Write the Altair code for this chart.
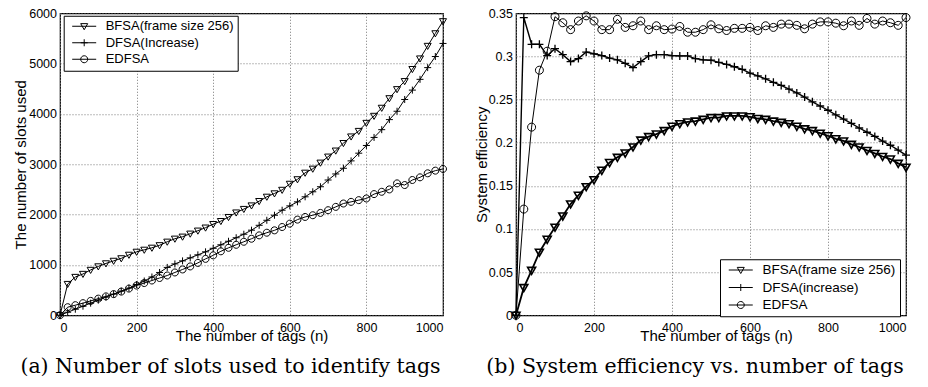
import altair as alt
import pandas as pd

tags = list(range(0, 1001, 20))

# (a) number of slots used
slots_bfsa = [0, 620, 760, 820, 900, 970, 1030, 1080, 1130, 1200, 1260, 1300, 1340, 1390, 1460,
              1520, 1560, 1620, 1680, 1740, 1810, 1870, 1950, 2040, 2110, 2180, 2267, 2353, 2420,
              2490, 2610, 2700, 2830, 2910, 3030, 3150, 3270, 3420, 3550, 3660, 3820, 3960, 4120,
              4310, 4490, 4650, 4890, 5100, 5350, 5600, 5840]
slots_dfsa = [0, 60, 120, 180, 240, 300, 360, 420, 480, 540, 610, 680, 760, 850, 950, 1020, 1080,
              1140, 1200, 1260, 1330, 1400, 1470, 1540, 1610, 1690, 1787, 1887, 1987, 2087, 2173,
              2253, 2353, 2453, 2553, 2687, 2807, 2920, 3067, 3220, 3373, 3533, 3687, 3887, 4053,
              4287, 4473, 4687, 4920, 5140, 5400]
slots_edfsa = [0, 160, 200, 240, 285, 330, 375, 420, 470, 530, 590, 640, 690, 740, 790, 850, 910,
               970, 1040, 1120, 1190, 1270, 1340, 1400, 1460, 1520, 1587, 1640, 1687, 1753, 1820,
               1900, 1953, 1987, 2033, 2087, 2153, 2220, 2253, 2287, 2320, 2407, 2453, 2500, 2620,
               2587, 2687, 2740, 2820, 2873, 2907]

# (b) system efficiency
eff_bfsa = [0, 0.032, 0.052, 0.073, 0.088, 0.102, 0.115, 0.129, 0.139, 0.149, 0.157, 0.168, 0.177,
            0.183, 0.188, 0.195, 0.203, 0.207, 0.210, 0.214, 0.219, 0.222, 0.224, 0.225, 0.227,
            0.229, 0.229, 0.231, 0.231, 0.231, 0.230, 0.228, 0.227, 0.225, 0.2235, 0.222, 0.219,
            0.216, 0.214, 0.211, 0.208, 0.2045, 0.202, 0.198, 0.195, 0.191, 0.1875, 0.184, 0.181,
            0.176, 0.1715]
eff_dfsa = [0, 0.345, 0.314, 0.314, 0.301, 0.309, 0.302, 0.294, 0.2975, 0.305, 0.303, 0.301, 0.298,
            0.296, 0.292, 0.287, 0.294, 0.3006, 0.302, 0.302, 0.301, 0.3006, 0.3006, 0.2975, 0.296,
            0.2956, 0.293, 0.2907, 0.288, 0.285, 0.2805, 0.2774, 0.274, 0.270, 0.2664, 0.262,
            0.2577, 0.2528, 0.2474, 0.2425, 0.2376, 0.2323, 0.2273, 0.2224, 0.217, 0.2121, 0.2072,
            0.2019, 0.197, 0.1913, 0.1856]
eff_edfsa = [0, 0.123, 0.218, 0.284, 0.306, 0.346, 0.339, 0.331, 0.341, 0.347, 0.341, 0.331, 0.331,
             0.343, 0.3336, 0.3355, 0.341, 0.331, 0.3355, 0.331, 0.3317, 0.3347, 0.328, 0.328, 0.331,
             0.3366, 0.332, 0.330, 0.3325, 0.3325, 0.3336, 0.330, 0.3355, 0.3336, 0.3374, 0.3374,
             0.336, 0.332, 0.3374, 0.340, 0.340, 0.3385, 0.3355, 0.341, 0.336, 0.344, 0.3374, 0.341,
             0.339, 0.336, 0.345]

names_a = ["BFSA(frame size 256)", "DFSA(Increase)", "EDFSA"]
names_b = ["BFSA(frame size 256)", "DFSA(increase)", "EDFSA"]
x_ticks = [0, 200, 400, 600, 800, 1000]
y_ticks_a = [0, 1000, 2000, 3000, 4000, 5000, 6000]
y_ticks_b = [0, 0.05, 0.1, 0.15, 0.2, 0.25, 0.3, 0.35]
caption_a = "(a) Number of slots used to identify tags"
caption_b = "(b) System efficiency vs. number of tags"

# marker glyphs (unit box) and legend glyphs (line + marker)
TRI = "M-1,-0.75L1,-0.75L0,1Z"
PLUS = "M-1,0L1,0M0,-1L0,1"
CIRC = "M1,0A1,1,0,1,1,-1,0A1,1,0,1,1,1,0Z"
L_TRI = "M-0.571,0L6.286,0M1.857,-0.75L3.857,-0.75L2.857,1Z"
L_PLUS = "M-0.571,0L6.286,0M1.857,0L3.857,0M2.857,-1L2.857,1"
L_CIRC = "M-0.571,0L6.286,0M3.857,0A1,1,0,1,1,1.857,0A1,1,0,1,1,3.857,0Z"

SANS = "Liberation Sans"
SERIF = "DejaVu Serif"


def make_df(names, cols):
    rows = []
    for name, vals in zip(names, cols):
        for n, v in zip(tags, vals):
            rows.append({"n": n, "v": v, "series": name})
    return pd.DataFrame(rows)


def panel(df, names, ymax, yvals, yfmt, ytitle, ytitle_x, width, height, leg_x, leg_y,
          leg_font, caption, cap_dx, line_w, pt_w, pt_size, xtitle_x):
    x = alt.X("n:Q", scale=alt.Scale(domain=[0, 1000], nice=False, zero=False),
              axis=alt.Axis(values=x_ticks, format="d", title="The number of tags (n)",
                            titleY=13.2, titleX=xtitle_x))
    y = alt.Y("v:Q", scale=alt.Scale(domain=[0, ymax], nice=False),
              axis=alt.Axis(values=yvals, format=yfmt, title=ytitle, titleX=ytitle_x))
    sw = alt.StrokeWidth("series:N", scale=alt.Scale(domain=names, range=line_w), legend=None)
    swp = alt.StrokeWidth("series:N", scale=alt.Scale(domain=names, range=pt_w), legend=None)
    base = alt.Chart(df)
    lines = base.mark_line(color="black").encode(x=x, y=y, detail="series:N", strokeWidth=sw)
    pts = base.mark_point(filled=False, color="black", size=pt_size, opacity=1).encode(
        x=x, y=y,
        shape=alt.Shape("series:N", scale=alt.Scale(domain=names, range=[TRI, PLUS, CIRC]),
                        legend=None),
        strokeWidth=swp)
    leg = base.transform_filter("datum.n < 0").mark_point(
        filled=False, color="black", opacity=1).encode(
        x=x, y=y,
        shape=alt.Shape("series:N", scale=alt.Scale(domain=names, range=[L_TRI, L_PLUS, L_CIRC]),
                        legend=alt.Legend(title=None, orient="none", legendX=leg_x, legendY=leg_y,
                                          padding=4, rowPadding=2.5, labelOffset=25,
                                          labelFont=SANS, labelFontSize=leg_font,
                                          labelColor="black", labelLimit=400, symbolSize=49,
                                          symbolStrokeWidth=1, symbolStrokeColor="black",
                                          strokeColor="black", fillColor="white",
                                          cornerRadius=0)))
    return alt.layer(lines, pts, leg).resolve_scale(
        shape="independent", strokeWidth="independent"
    ).properties(
        width=width, height=height,
        title=alt.TitleParams(text=caption, orient="bottom", frame="group", anchor="middle",
                              dx=cap_dx, offset=14, font=SERIF, fontSize=20.5,
                              fontWeight="normal", color="black"))


left = panel(make_df(names_a, [slots_bfsa, slots_dfsa, slots_edfsa]), names_a, 6000, y_ticks_a,
             "d", "The number of slots used", -31.4, 383, 302, 3.7, 2.5, 13, caption_a, -21,
             [1, 1, 1], [1, 1, 1], 49, 191.5)
right = panel(make_df(names_b, [eff_bfsa, eff_dfsa, eff_edfsa]), names_b, 0.35, y_ticks_b,
              ".2~f", "System efficiency", -26.9, 390, 302, 204, 246, 13.5, caption_b, -16,
              [1.8, 1, 1], [1.6, 1, 1], 64, 200)

chart = alt.hconcat(left, right, spacing=23).resolve_scale(
    x="independent", y="independent", shape="independent", strokeWidth="independent"
).properties(
    padding={"left": 4, "top": -1.75, "right": 0, "bottom": 0}
).configure_view(
    stroke="black", strokeWidth=1.2
).configure_axis(
    labelFont=SANS, labelFontSize=12.5, labelColor="black", labelPadding=3.5,
    titleFont=SANS, titleFontSize=15, titleFontWeight="normal", titleColor="black",
    ticks=False, tickSize=0, domain=False, grid=True, gridColor="#777", gridDash=[1, 2],
    gridWidth=1
).configure_axisX(
    labelPadding=5.8
)

chart.save("out.html", embed_options={"renderer": "svg", "actions": False})
